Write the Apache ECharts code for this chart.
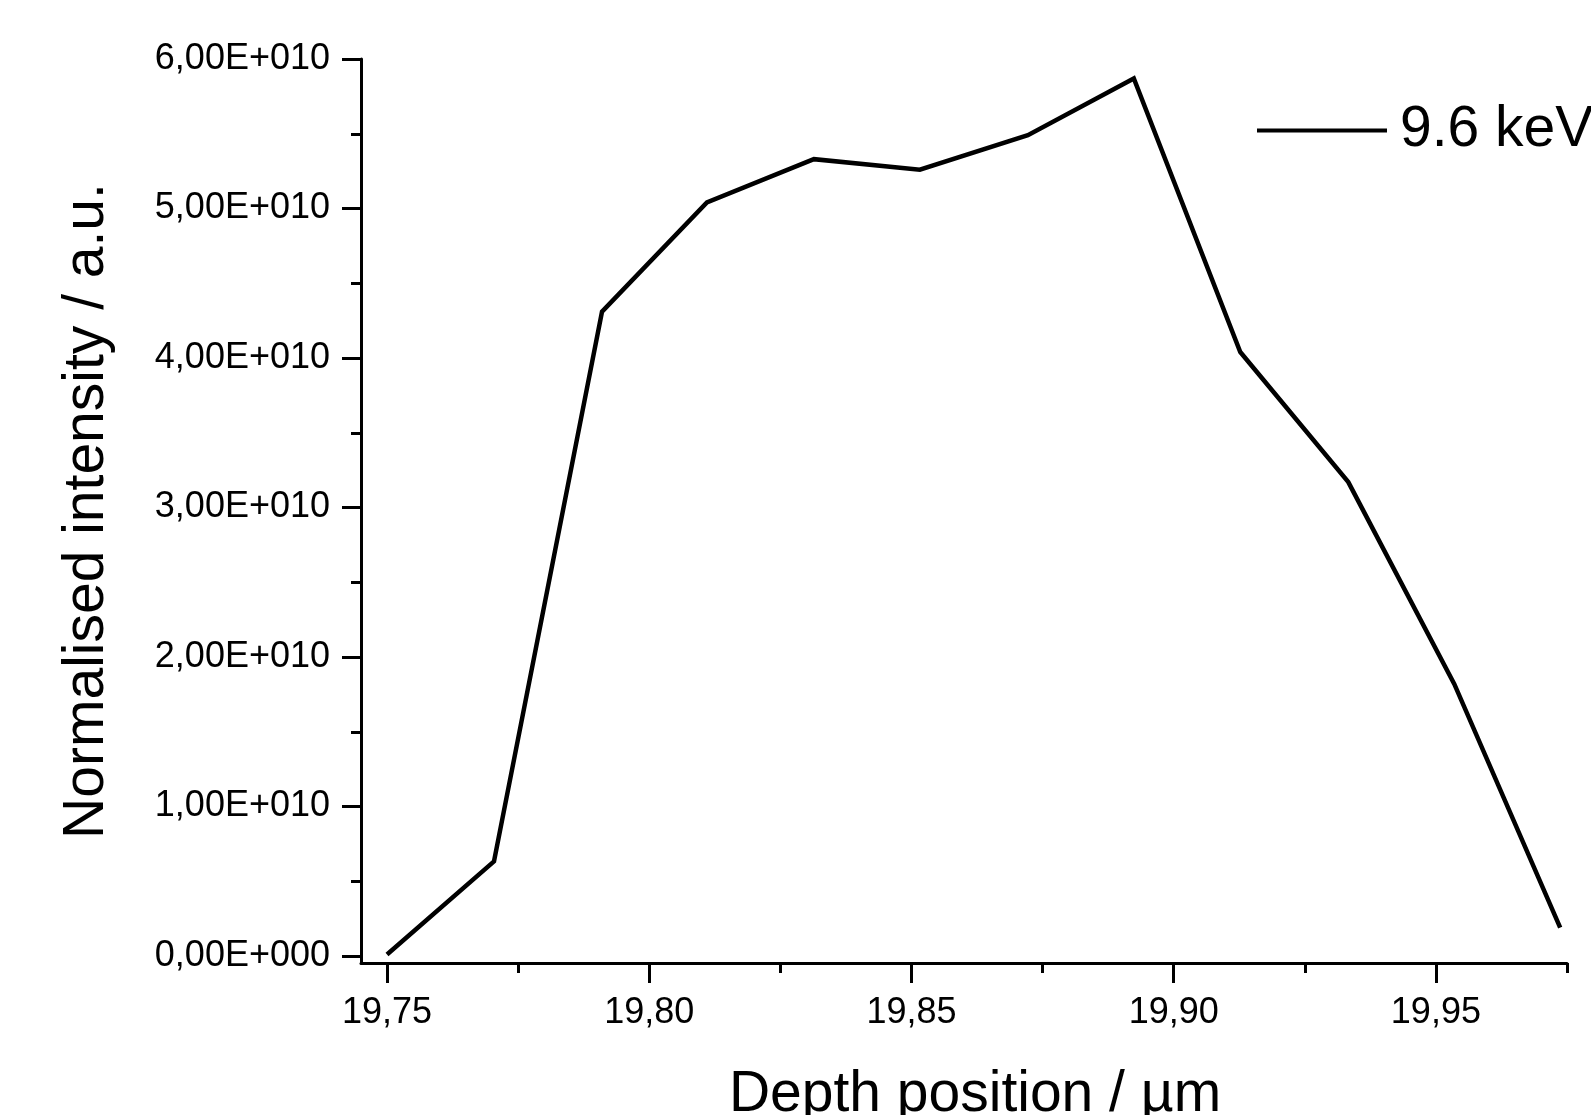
<!DOCTYPE html>
<html>
<head>
<meta charset="UTF-8">
<title>Depth profile</title>
<script src="https://cdn.jsdelivr.net/npm/echarts@6/dist/echarts.min.js"></script>
<style>
  html, body { margin: 0; padding: 0; background: #fff; }
  #main { width: 1591px; height: 1115px; }
</style>
</head>
<body>
<div id="main"></div>
<script type="text/javascript">
// depth positions
var depth = [19.750, 19.7704, 19.791, 19.811, 19.8314, 19.8516, 19.8722, 19.8924, 19.9127, 19.9333, 19.9535, 19.9737];
var intensity = [0.01e10, 0.633e10, 4.31e10, 5.04e10, 5.33e10, 5.26e10, 5.49e10, 5.87e10, 4.04e10, 3.17e10, 1.82e10, 0.19e10];
var seriesName = '9.6 keV';

var xTicks = [19.75, 19.80, 19.85, 19.90, 19.95];
var xTickLabels = ['19,75', '19,80', '19,85', '19,90', '19,95'];
var xMinorTicks = [19.775, 19.825, 19.875, 19.925, 19.975];

var yTicks = [0, 1e10, 2e10, 3e10, 4e10, 5e10, 6e10];
var yTickLabels = ['0,00E+000', '1,00E+010', '2,00E+010', '3,00E+010', '4,00E+010', '5,00E+010', '6,00E+010'];
var yMinorTicks = [0.5e10, 1.5e10, 2.5e10, 3.5e10, 4.5e10, 5.5e10];

var FONT = '"Liberation Sans", Arial, sans-serif';

function lookup(ticks, labels) {
  return function (v) {
    for (var i = 0; i < ticks.length; i++) {
      if (Math.abs(ticks[i] - v) < Math.abs(ticks[1] - ticks[0]) * 1e-3) return labels[i];
    }
    return '';
  };
}

var myChart = echarts.init(document.getElementById('main'));

var lineStyle = { color: '#000', width: 3 };

var option = {
  animation: false,
  backgroundColor: '#fff',
  grid: { left: 361, right: 24, top: 59, bottom: 152, outerBoundsMode: 'none', containLabel: false },
  legend: {
    data: [seriesName],
    left: 1252,
    top: 97,
    icon: 'rect',
    itemWidth: 130,
    itemHeight: 4,
    itemGap: 0,
    textStyle: { fontFamily: FONT, fontSize: 57, color: '#000', padding: [0, 0, 0, 8] }
  },
  xAxis: [
    {
      type: 'value',
      position: 'bottom',
      min: 19.74504,
      max: 19.975,
      name: 'Depth position / µm',
      nameLocation: 'middle',
      nameGap: 104,
      nameTextStyle: { fontFamily: FONT, fontSize: 57, color: '#000', padding: [0, 0, 0, 22] },
      axisLine: { show: true, onZero: false, lineStyle: lineStyle },
      axisTick: { show: true, inside: false, length: 20, customValues: xTicks, lineStyle: lineStyle },
      axisLabel: {
        customValues: xTicks,
        margin: 32,
        fontFamily: FONT, fontSize: 36, color: '#000',
        formatter: lookup(xTicks, xTickLabels)
      },
      splitLine: { show: false }
    },
    {
      type: 'value',
      position: 'bottom',
      min: 19.74504,
      max: 19.975,
      axisLine: { show: false, onZero: false },
      axisTick: { show: true, inside: false, length: 10, customValues: xMinorTicks, lineStyle: lineStyle },
      axisLabel: { show: false },
      splitLine: { show: false }
    }
  ],
  yAxis: [
    {
      type: 'value',
      position: 'left',
      min: -0.0468e10,
      max: 6e10,
      name: 'Normalised intensity / a.u.',
      nameLocation: 'middle',
      nameGap: 245,
      nameTextStyle: { fontFamily: FONT, fontSize: 57, color: '#000' },
      axisLine: { show: true, onZero: false, lineStyle: lineStyle },
      axisTick: { show: true, inside: false, length: 19, customValues: yTicks, lineStyle: lineStyle },
      axisLabel: {
        customValues: yTicks,
        margin: 31,
        fontFamily: FONT, fontSize: 36, color: '#000',
        formatter: lookup(yTicks, yTickLabels)
      },
      splitLine: { show: false }
    },
    {
      type: 'value',
      position: 'left',
      min: -0.0468e10,
      max: 6e10,
      axisLine: { show: false, onZero: false },
      axisTick: { show: true, inside: false, length: 10, customValues: yMinorTicks, lineStyle: lineStyle },
      axisLabel: { show: false },
      splitLine: { show: false }
    }
  ],
  series: [
    {
      name: seriesName,
      type: 'line',
      xAxisIndex: 0,
      yAxisIndex: 0,
      showSymbol: false,
      symbol: 'none',
      lineStyle: { color: '#000', width: 4.5, join: 'miter' },
      itemStyle: { color: '#000' },
      data: depth.map(function (d, i) { return [d, intensity[i]]; })
    }
  ]
};

myChart.setOption(option);
</script>
</body>
</html>
